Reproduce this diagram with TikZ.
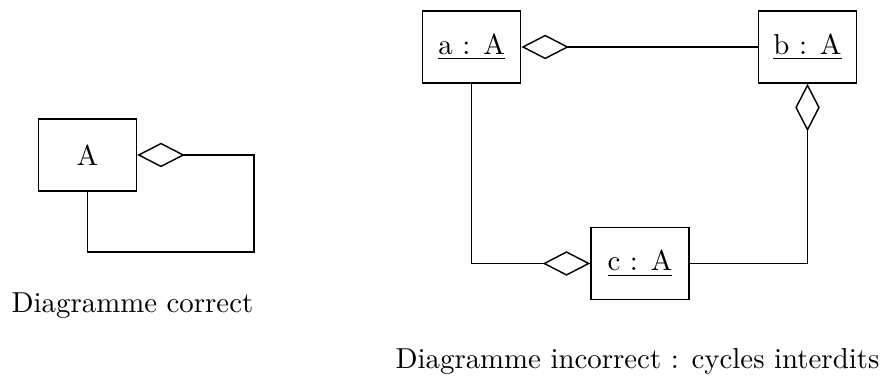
\documentclass[tikz,border=0pt]{standalone}
\usepackage{amsmath,amssymb}
\usepackage{tikz}
\usetikzlibrary{positioning,arrows.meta}

\begin{document}
\begin{tikzpicture}[x=0.347pt,y=-0.347pt,line width=0.5pt,
    objbox/.style={draw,minimum width=34pt,minimum height=25pt,inner sep=0pt},
    agg/.style={{Diamond[open,length=16.5pt,width=8.5pt]}-}]
  \useasboundingbox (0,0) rectangle (887,383);
  % diagramme correct
  \node[objbox] (A) at (87.5,155) {A};
  \coordinate (r1) at (254,252);
  \draw[agg] (A.east) -| (r1) -| (A.south);
  \node[anchor=base] (t1) at (132.5,313) {Diagramme correct};
  % diagramme incorrect
  \node[objbox] (a) at (471.7,47) {\underline{a : A}};
  \node[objbox] (b) at (807.5,47) {\underline{b : A}};
  \node[objbox] (c) at (640,263.5) {\underline{c : A}};
  \draw[agg] (a.east) -- (b.west);
  \draw[agg] (b.south) |- (c.east);
  \draw[agg] (c.west) -| (a.south);
  \node[anchor=base] (t2) at (637.5,369) {Diagramme incorrect : cycles interdits};
\end{tikzpicture}
\end{document}
